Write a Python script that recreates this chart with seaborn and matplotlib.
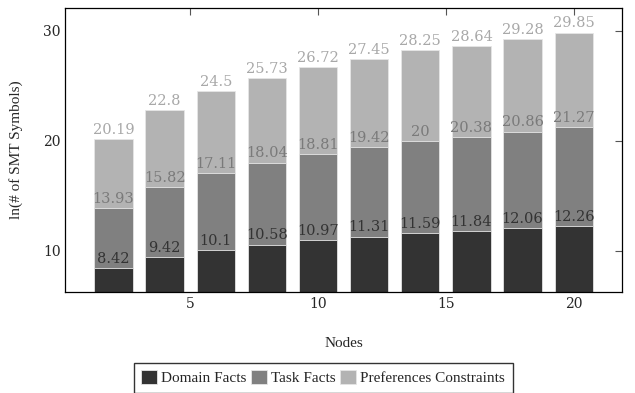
import pandas as pd
import matplotlib.pyplot as plt
import seaborn as sns

# Values (cumulative heights of each stack)
nodes = [2, 4, 6, 8, 10, 12, 14, 16, 18, 20]
domain_facts = [8.42, 9.42, 10.1, 10.58, 10.97, 11.31, 11.59, 11.84, 12.06, 12.26]
task_facts = [13.93, 15.82, 17.11, 18.04, 18.81, 19.42, 20, 20.38, 20.86, 21.27]
pref_constraints = [20.19, 22.8, 24.5, 25.73, 26.72, 27.45, 28.25, 28.64, 29.28, 29.85]
labels = ["Domain Facts", "Task Facts", "Preferences Constraints"]
colours = ["#333333", "#808080", "#b3b3b3"]
text_colours = ["#333333", "#7a7a7a", "#a8a8a8"]

df = pd.DataFrame({"nodes": nodes, "domain": domain_facts,
                   "task": task_facts, "pref": pref_constraints})

sns.set_style("white")
plt.rcParams['font.family'] = ['DejaVu Serif']
label_font = ['Liberation Serif', 'DejaVu Serif']

fig, ax = plt.subplots(figsize=(6.35, 3.93), dpi=100)
fig.subplots_adjust(left=0.103, right=0.98, top=0.98, bottom=0.257)

# Draw tallest first so the shorter series sit in front
series = [("pref", pref_constraints), ("task", task_facts), ("domain", domain_facts)]
for i, (col, vals) in enumerate(series):
    k = 2 - i
    sns.barplot(data=df, x="nodes", y=col, native_scale=True, color=colours[k],
                saturation=1, width=0.75, edgecolor="#e6e6e6", linewidth=0.6,
                label=labels[k], ax=ax)
    for x, v in zip(nodes, vals):
        ax.text(x, v + 0.2, f"{v:g}", ha="center", va="bottom",
                fontsize=10.5, color=text_colours[k])

# seaborn adds its own legend inside the axes, drop it
if ax.get_legend() is not None:
    ax.get_legend().remove()

ax.set_xlim(0.12, 21.9)
ax.set_ylim(6.27, 32.1)
ax.set_xticks([5, 10, 15, 20])
ax.set_yticks([10, 20, 30])
ax.tick_params(direction="in", length=5, top=True, right=True, labelsize=10,
               color="#555555")
ax.set_xlabel("Nodes", fontsize=11, labelpad=19, family=label_font)
ax.set_ylabel("ln(# of SMT Symbols)", fontsize=11, labelpad=14, family=label_font)
for s in ax.spines.values():
    s.set_color("black")
    s.set_linewidth(0.9)

h, l = ax.get_legend_handles_labels()
order = [l.index(n) for n in labels]
fig.legend([h[i] for i in order], labels, loc="upper center",
           bbox_to_anchor=(0.509, 0.097), ncol=3, frameon=True, fancybox=False,
           edgecolor="black", prop={'family': label_font, 'size': 11},
           handlelength=1.0, handleheight=1.0,
           handletextpad=0.3, columnspacing=0.3, borderpad=0.5)

plt.savefig("out.png", dpi=100)
plt.close()
